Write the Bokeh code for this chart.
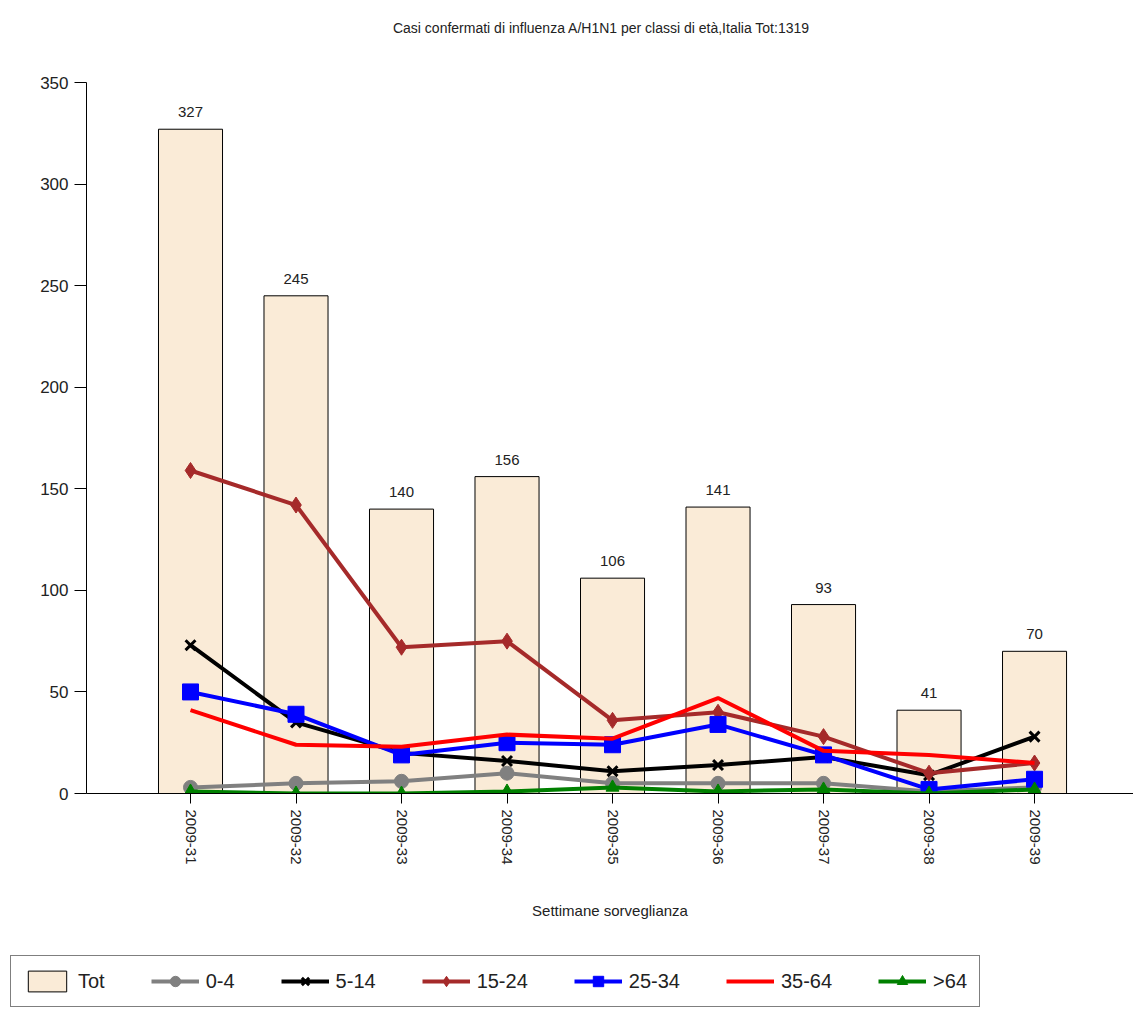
import math
from bokeh.plotting import figure
from bokeh.layouts import column
from bokeh.models import (ColumnDataSource, Range1d, LabelSet, Label, Legend,
                          LegendItem, FixedTicker, Plot)
from bokeh.core.properties import value
from bokeh.embed import file_html
from bokeh.resources import INLINE

# ---- data ----
weeks = ["2009-31", "2009-32", "2009-33", "2009-34", "2009-35",
         "2009-36", "2009-37", "2009-38", "2009-39"]
tot = [327, 245, 140, 156, 106, 141, 93, 41, 70]
age_0_4 = [3, 5, 6, 10, 5, 5, 5, 1, 3]
age_5_14 = [73, 35, 20, 16, 11, 14, 18, 9, 28]
age_15_24 = [159, 142, 72, 75, 36, 40, 28, 10, 15]
age_25_34 = [50, 39, 19, 25, 24, 34, 19, 2, 7]
age_35_64 = [41, 24, 23, 29, 27, 47, 21, 19, 15]
age_65p = [1, 0, 0, 1, 3, 1, 2, 0, 2]
y_ticks = [0, 50, 100, 150, 200, 250, 300, 350]

title_text = "Casi confermati di influenza A/H1N1 per classi di età,Italia Tot:1319"
x_label = "Settimane sorveglianza"

FONT = "Liberation Sans"
TXT = "#222222"
W = 1133
H_TITLE, H_MAIN, H_LEG = 70, 875, 65
HAS_FA = "frame_align" in Plot.properties()


def bare(fig):
    fig.outline_line_color = None
    fig.xgrid.visible = False
    fig.ygrid.visible = False
    if HAS_FA:
        fig.frame_align = False
    return fig


# ---- title strip ----
pt = bare(figure(width=W, height=H_TITLE, output_backend="svg", toolbar_location=None,
                 x_range=Range1d(0, W), y_range=Range1d(0, H_TITLE),
                 x_axis_location=None, y_axis_location=None,
                 min_border=0, min_border_left=0, min_border_right=0,
                 min_border_top=0, min_border_bottom=0))
pt.add_layout(Label(x=601, y=43, text=title_text, text_align="center",
                    text_baseline="middle", text_font=FONT,
                    text_font_size="14px", text_color=TXT))

# ---- main chart ----
xs = list(range(1, len(weeks) + 1))
p = bare(figure(width=W, height=H_MAIN, output_backend="svg", toolbar_location=None,
                x_range=Range1d(0.0142, 9.938), y_range=Range1d(0, 350),
                min_border_left=86, min_border_right=0, min_border_top=12,
                min_border_bottom=H_MAIN - 723))

src = ColumnDataSource(dict(x=xs, tot=tot, lab=[str(v) for v in tot]))
bars = p.vbar(x="x", top="tot", width=0.607, bottom=0, source=src,
              fill_color="#FAEBD7", line_color="black", line_width=1)
p.add_layout(LabelSet(x="x", y="tot", text="lab", source=src, text_align="center",
                      text_baseline="bottom", y_offset=12, text_font=value(FONT),
                      text_font_size=value("15px"), text_color=TXT))

series = [
    ("0-4", age_0_4, "#808080", "circle", 14),
    ("5-14", age_5_14, "#000000", "x", 14),
    ("15-24", age_15_24, "#A52A2A", "diamond", 16),
    ("25-34", age_25_34, "#0000FF", "square", 16),
    ("35-64", age_35_64, "#FF0000", None, 0),
    (">64", age_65p, "#008000", "triangle", 13),
]


def draw_series(fig, xv, vals, col, mk, sz, lw=4):
    rs = [fig.line(xv, vals, line_color=col, line_width=lw)]
    if mk is not None:
        if mk == "x":
            rs.append(fig.scatter(xv, vals, marker=mk, size=sz, line_color=col,
                                  line_width=3))
        else:
            rs.append(fig.scatter(xv, vals, marker=mk, size=sz, fill_color=col,
                                  line_color=col))
    return rs


for name, vals, col, mk, sz in series:
    draw_series(p, xs, vals, col, mk, sz)

p.yaxis.ticker = FixedTicker(ticks=y_ticks)
p.yaxis.minor_tick_line_color = None
p.yaxis.major_tick_out = 12
p.yaxis.major_tick_in = 0
p.yaxis.major_label_standoff = 6
p.yaxis.major_label_text_font = FONT
p.yaxis.major_label_text_font_size = "17px"
p.yaxis.major_label_text_color = TXT
p.yaxis.axis_line_color = "black"
p.yaxis.major_tick_line_color = "black"

p.xaxis.ticker = FixedTicker(ticks=xs)
p.xaxis.major_label_overrides = {x: w for x, w in zip(xs, weeks)}
p.xaxis.major_label_orientation = -math.pi / 2
p.xaxis.minor_tick_line_color = None
p.xaxis.major_tick_out = 10
p.xaxis.major_tick_in = 0
p.xaxis.major_label_standoff = 6
p.xaxis.major_label_text_font = FONT
p.xaxis.major_label_text_font_size = "15px"
p.xaxis.major_label_text_color = TXT
p.xaxis.axis_label = x_label
p.xaxis.axis_label_text_font = FONT
p.xaxis.axis_label_text_font_size = "15px"
p.xaxis.axis_label_text_font_style = "normal"
p.xaxis.axis_label_text_color = TXT
p.xaxis.axis_label_standoff = 34
p.xaxis.axis_line_color = "black"
p.xaxis.major_tick_line_color = "black"

# ---- legend strip (proxy renderers sit outside the visible range) ----
pl = bare(figure(width=W, height=H_LEG, output_backend="svg", toolbar_location=None,
                 x_range=Range1d(0, 1), y_range=Range1d(0, 1),
                 x_axis_location=None, y_axis_location=None,
                 min_border=0, min_border_left=0, min_border_right=0,
                 min_border_top=0, min_border_bottom=0))
off_x, off_y = [-10, -9], [-10, -9]
lbars = pl.vbar(x=off_x, top=off_y, width=0.5, fill_color="#FAEBD7",
                line_color="black", line_width=1)
items = [LegendItem(label="Tot", renderers=[lbars])]
for name, vals, col, mk, sz in series:
    items.append(LegendItem(label=name,
                            renderers=draw_series(pl, off_x, off_y, col, mk, sz)))
legend = Legend(items=items, orientation="horizontal",
                location=(10 if HAS_FA else 2, 3),
                label_text_font=FONT, label_text_font_size="20px",
                label_text_color=TXT, glyph_width=48, glyph_height=26,
                spacing=46, label_standoff=7, padding=12, margin=0,
                border_line_color="black", border_line_width=1,
                background_fill_color="white", background_fill_alpha=1)
pl.add_layout(legend, "center")

layout = column(pt, p, pl, spacing=0)
open("out.html", "w").write(file_html(layout, INLINE))
